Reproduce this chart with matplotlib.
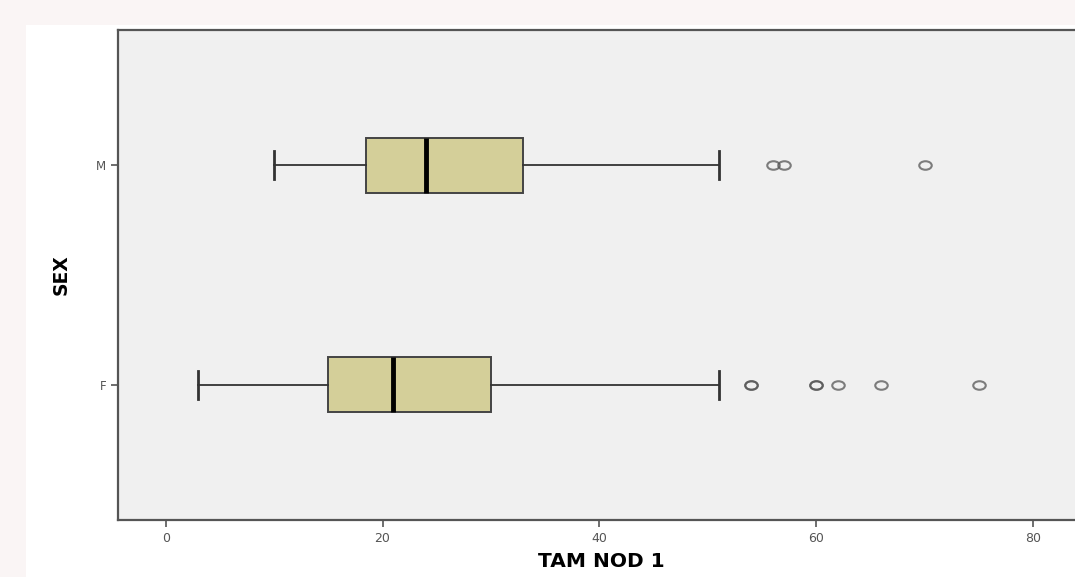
import matplotlib.pyplot as plt
import matplotlib.patches as mpatches
from matplotlib.path import Path

# data
groups = ['F', 'M']
whislo = [3, 10]
q1 = [15, 18.5]
med = [21, 24]
q3 = [30, 33]
whishi = [51, 51]
fliers = [[54, 54, 60, 60, 62, 66, 75], [56, 57, 70]]
xticks = [0, 20, 40, 60, 80]

plt.rcParams['font.family'] = ['DejaVu Sans']

fig = plt.figure(figsize=(10.75, 5.77), dpi=100)
fig.patch.set_facecolor('#faf5f5')

# white panel behind the chart
W, H = 1075, 577
fig.patches.append(mpatches.Rectangle((26 / W, 0), 1, 1 - 25 / H,
                                      transform=fig.transFigure,
                                      facecolor='white', edgecolor='none',
                                      zorder=-10))

ax = fig.add_axes([118 / W, 1 - 520 / H, (1085 - 118) / W, 490 / H])
ax.set_zorder(5)
ax.set_facecolor('#f0f0f0')

# flattened circle for the outliers (the source is stretched sideways)
circ = Path.unit_circle()
oval = Path(circ.vertices * [1.0, 0.68], circ.codes)

stats = []
for i in range(len(groups)):
    stats.append({'label': groups[i], 'whislo': whislo[i], 'q1': q1[i],
                  'med': med[i], 'q3': q3[i], 'whishi': whishi[i],
                  'fliers': fliers[i]})

ax.bxp(stats, positions=[1, 2], vert=False, widths=0.25, patch_artist=True,
       boxprops=dict(facecolor='#d4cf99', edgecolor='#444444', linewidth=1.4),
       medianprops=dict(color='black', linewidth=3.5),
       whiskerprops=dict(color='#333333', linewidth=1.3),
       capprops=dict(color='#333333', linewidth=2),
       capwidths=0.13,
       flierprops=dict(marker=oval, markersize=9, markerfacecolor='none',
                       markeredgecolor='#555555', markeredgewidth=1.5,
                       alpha=0.75))

ax.set_xlim(-4.4, 84.8)
ax.set_ylim(0.386, 2.614)
ax.set_xticks(xticks)
ax.set_xticklabels([str(t) for t in xticks], fontsize=9, color='#555555')
ax.set_yticks([1, 2])
ax.set_yticklabels(groups, fontsize=8.5, color='#555555')
ax.tick_params(axis='both', length=5, width=1.2, color='#555555')

for side in ['left', 'bottom', 'top', 'right']:
    ax.spines[side].set_color('#555555')
    ax.spines[side].set_linewidth(1.6)

ax.set_xlabel('TAM NOD 1', fontsize=14.5, fontweight='bold', labelpad=5)
ax.set_ylabel('SEX', fontsize=13.5, fontweight='bold', labelpad=18)

fig.savefig('out.png', dpi=100, facecolor=fig.get_facecolor())
